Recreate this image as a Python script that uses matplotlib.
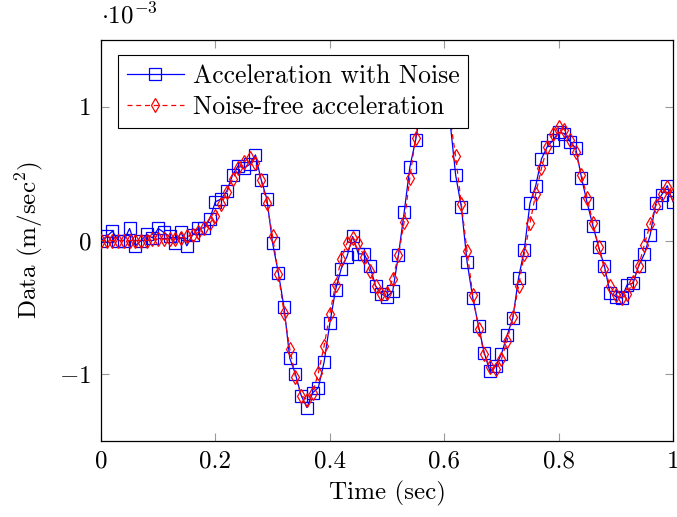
import matplotlib.pyplot as plt
import numpy as np

plt.rcParams['font.family'] = 'serif'
plt.rcParams['font.serif'] = ['cmr10', 'DejaVu Serif']
plt.rcParams['mathtext.fontset'] = 'cm'
plt.rcParams['axes.formatter.use_mathtext'] = True

# acceleration values, in units of 1e-3 m/sec^2, sampled every 0.01 s
noisy = [0.0, 0.03, 0.07, 0.0, 0.0, 0.09, -0.04, 0.0, 0.045, 0.02,
         0.09, 0.06, 0.03, -0.02, 0.06, -0.04, 0.04, 0.09, 0.095, 0.16,
         0.29, 0.31, 0.37, 0.49, 0.56, 0.54, 0.57, 0.64, 0.455, 0.31,
         -0.02, -0.24, -0.50, -0.88, -1.0, -1.16, -1.25, -1.14, -1.10, -0.91,
         -0.62, -0.37, -0.21, -0.12, 0.03, -0.10, -0.10, -0.19, -0.34, -0.40,
         -0.42, -0.38, -0.11, 0.21, 0.55, 0.75, 1.00, 1.20, 1.28, 1.27,
         1.15, 0.90, 0.49, 0.25, -0.16, -0.43, -0.64, -0.84, -0.98, -0.94,
         -0.85, -0.71, -0.58, -0.28, -0.07, 0.28, 0.41, 0.61, 0.70, 0.75,
         0.81, 0.80, 0.74, 0.69, 0.47, 0.28, 0.11, -0.05, -0.19, -0.39,
         -0.42, -0.43, -0.33, -0.32, -0.19, -0.10, 0.04, 0.28, 0.34, 0.41,
         0.29]
clean = [0.0, 0.0, 0.0, 0.0, 0.0, 0.0, 0.0, 0.0, 0.0, 0.01,
         0.01, 0.01, 0.01, 0.01, 0.02, 0.03, 0.04, 0.06, 0.09, 0.13,
         0.18, 0.27, 0.36, 0.46, 0.54, 0.59, 0.62, 0.58, 0.45, 0.28,
         0.03, -0.25, -0.54, -0.81, -1.02, -1.16, -1.19, -1.14, -0.99, -0.79,
         -0.55, -0.33, -0.14, -0.02, 0.02, -0.02, -0.12, -0.23, -0.34, -0.40,
         -0.39, -0.29, -0.11, 0.14, 0.47, 0.77, 1.03, 1.20, 1.27, 1.25,
         1.13, 0.92, 0.63, 0.27, -0.08, -0.41, -0.66, -0.85, -0.95, -0.96,
         -0.89, -0.75, -0.57, -0.34, -0.10, 0.13, 0.35, 0.54, 0.70, 0.80,
         0.85, 0.83, 0.75, 0.66, 0.49, 0.32, 0.13, -0.05, -0.21, -0.34,
         -0.41, -0.43, -0.40, -0.31, -0.19, -0.03, 0.12, 0.26, 0.35, 0.40,
         0.35]
t = np.linspace(0, 1, len(noisy))

fig = plt.figure(figsize=(6.77, 5.17), dpi=100)
ax = fig.add_axes([101 / 677, 76 / 517, 572 / 677, 401 / 517])

ax.plot(t, noisy, '-s', color='blue', lw=0.9, ms=8, mfc='none', mew=0.9,
        label='Acceleration with Noise', zorder=2)
ax.plot(t, clean, '--d', color='red', lw=0.9, ms=7, mfc='none', mew=0.9,
        dashes=(4, 3), label='Noise-free acceleration', zorder=3)

ax.set_xlim(0, 1)
ax.set_ylim(-1.5, 1.5)
ax.set_xticks([0, 0.2, 0.4, 0.6, 0.8, 1])
ax.set_xticklabels(['0', '0.2', '0.4', '0.6', '0.8', '1'])
ax.set_yticks([-1, 0, 1])
ax.set_yticklabels(['$-1$', '0', '1'])
ax.tick_params(direction='in', top=True, right=True, length=6, width=0.8,
               color='#999999', labelsize=18, pad=7)
for s in ax.spines.values():
    s.set_linewidth(0.9)

ax.set_xlabel('Time (sec)', fontsize=18, labelpad=6)
ax.set_ylabel('Data (m/sec$^2$)', fontsize=18, labelpad=10)
ax.text(0.0, 1.03, r'$\cdot 10^{-3}$', transform=ax.transAxes, fontsize=18,
        va='bottom', ha='left')

leg = ax.legend(loc='upper left', fontsize=18.5, fancybox=False, framealpha=1,
                edgecolor='black', borderpad=0.35, handlelength=2.2,
                handletextpad=0.35, labelspacing=0.3, borderaxespad=0,
                bbox_to_anchor=(0.03, 0.962))
leg.get_frame().set_linewidth(0.8)
leg.set_zorder(5)

fig.savefig('out.png', dpi=100)
